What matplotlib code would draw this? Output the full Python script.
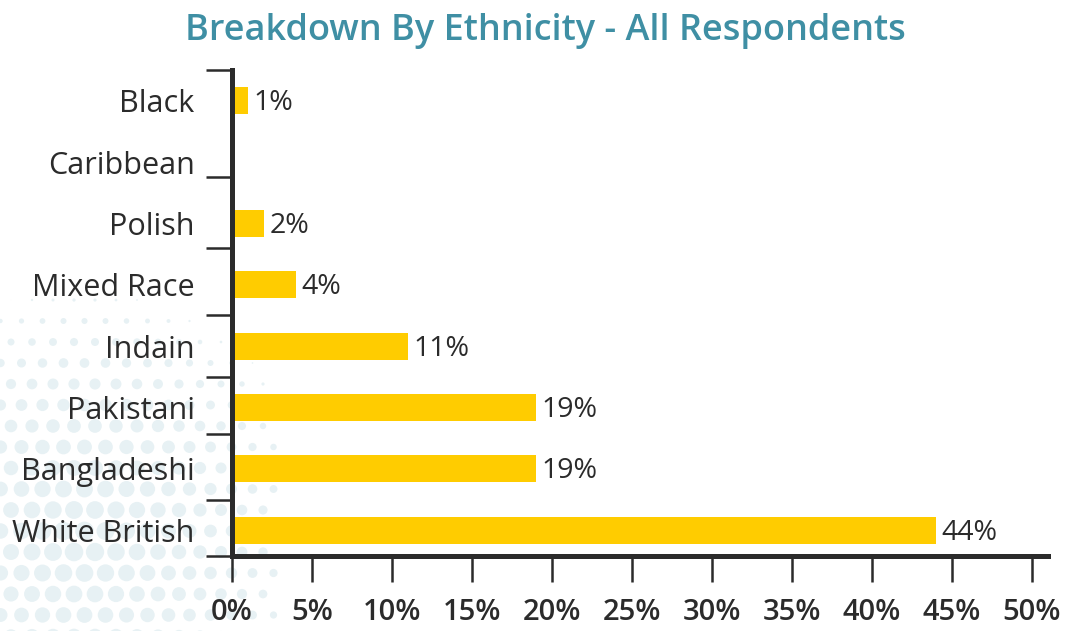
import numpy as np
import matplotlib.pyplot as plt
from matplotlib.ticker import FixedLocator, FuncFormatter

plt.rcParams['font.family'] = ['Open Sans', 'DejaVu Sans']

categories = ['Black', 'Caribbean', 'Polish', 'Mixed Race', 'Indain',
              'Pakistani', 'Bangladeshi', 'White British']
shares = [1, None, 2, 4, 11, 19, 19, 44]
value_labels = ['1%', '', '2%', '4%', '11%', '19%', '19%', '44%']
x_ticks = [0, 5, 10, 15, 20, 25, 30, 35, 40, 45, 50]

text_col = '#2b2b2b'
bar_col = '#ffcc00'
title_col = '#3f8fa4'

fig = plt.figure(figsize=(10.88, 6.31), dpi=100)

# halftone dots in the lower-left corner
bg = fig.add_axes([0, 0, 1, 1], zorder=-1)
bg.set_xlim(0, 1088)
bg.set_ylim(631, 0)
bg.axis('off')
gx, gy = np.meshgrid(np.arange(-10, 270, 21), np.arange(300, 660, 21))
gx = gx + (np.arange(gx.shape[0])[:, None] % 2) * 10.5
d = np.hypot(gx - 80, gy - 540)
s = np.clip(1 - d / 250, 0, 1) ** 1.1 * 190
bg.scatter(gx.ravel(), gy.ravel(), s=s.ravel(), color='#e7f1f4', lw=0)

ax = fig.add_axes([232 / 1088, 1 - 556 / 631, (1048 - 232) / 1088, (556 - 70) / 631])
ax.set_facecolor('none')

pos = np.arange(len(categories))
for i, v in enumerate(shares):
    if v is None:
        continue
    ax.barh(pos[i], v, height=0.44, color=bar_col, zorder=2)
    ax.text(v + 0.35, pos[i] + 0.04, value_labels[i], va='center', ha='left',
            fontsize=20.5, color=text_col)

ax.set_xlim(0, 51)
ax.set_ylim(7.42, -0.5)

ax.set_yticks(pos)
ax.set_yticklabels(categories, fontsize=22, color=text_col)
ax.tick_params(axis='y', which='major', length=0, pad=27)
ax.yaxis.set_minor_locator(FixedLocator([-0.5, 1.25, 2.4, 3.5, 4.5, 5.43, 6.5, 7.42]))
ax.tick_params(axis='y', which='minor', length=19, width=1.8, color=text_col, direction='out')

ax.set_xticks(x_ticks)
ax.xaxis.set_major_formatter(FuncFormatter(lambda v, p: f'{v:.0f}%'))
ax.tick_params(axis='x', length=19, width=1.8, color=text_col, pad=11,
               labelsize=21, labelcolor=text_col)
for lab in ax.get_xticklabels():
    lab.set_fontweight('semibold')

for side in ['top', 'right']:
    ax.spines[side].set_visible(False)
for side in ['left', 'bottom']:
    ax.spines[side].set_linewidth(3.6)
    ax.spines[side].set_color(text_col)
    ax.spines[side].set_zorder(3)

fig.text(545 / 1088, 1 - 31 / 631, 'Breakdown By Ethnicity - All Respondents',
         ha='center', va='center', fontsize=26, fontweight='semibold', color=title_col)

fig.savefig('out.png', dpi=100)
